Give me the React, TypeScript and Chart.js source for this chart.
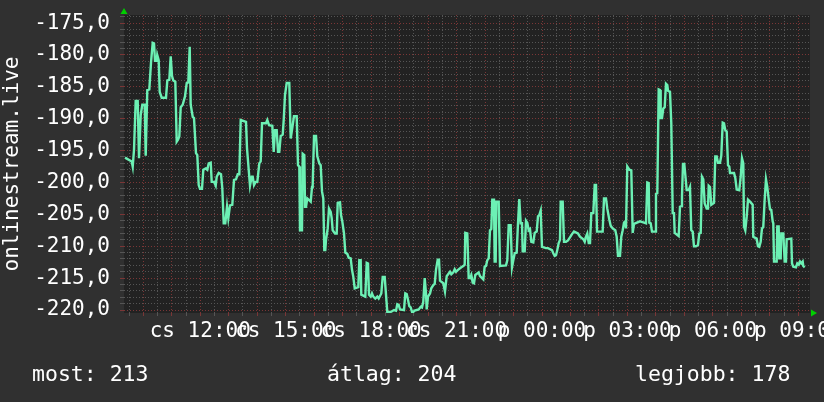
import { useEffect, useRef } from 'react';
import { Chart, registerables } from 'chart.js';

Chart.register(...registerables);

// Time of each vertex, in hours from Thursday 00:00 (values above 24 are Friday)
const hours = [
  9.357, 9.593, 9.628, 9.673, 9.733, 9.803, 9.849, 9.909, 9.965, 10.049,
  10.084, 10.14, 10.211, 10.27, 10.33, 10.376, 10.411, 10.47, 10.49, 10.54,
  10.576, 10.646, 10.797, 10.843, 10.913, 10.962, 11.008, 11.053, 11.124, 11.173,
  11.218, 11.264, 11.313, 11.383, 11.464, 11.524, 11.58, 11.629, 11.664, 11.735,
  11.78, 11.85, 11.896, 11.945, 11.991, 12.061, 12.107, 12.191, 12.247, 12.296,
  12.367, 12.402, 12.482, 12.542, 12.577, 12.647, 12.728, 12.774, 12.823, 12.879,
  12.939, 12.985, 13.044, 13.125, 13.185, 13.255, 13.315, 13.371, 13.42, 13.606,
  13.641, 13.701, 13.746, 13.806, 13.841, 13.887, 13.947, 14.003, 14.073, 14.122,
  14.168, 14.308, 14.354, 14.414, 14.53, 14.579, 14.624, 14.684, 14.73, 14.775,
  14.824, 14.895, 14.93, 14.975, 15.035, 15.126, 15.176,
  15.246, 15.29, 15.386, 15.432, 15.478, 15.502, 15.572, 15.597, 15.653, 15.678,
  15.713, 15.758, 15.878, 15.924, 15.948, 15.994, 16.064, 16.11, 16.18, 16.229,
  16.275, 16.32, 16.355, 16.39, 16.415, 16.475, 16.52, 16.58, 16.615, 16.65,
  16.731, 16.791, 16.826, 16.907, 16.942, 16.987, 17.047, 17.093, 17.163, 17.212,
  17.282, 17.328, 17.374, 17.423, 17.549, 17.584, 17.633, 17.654, 17.795, 17.844,
  17.89, 17.925, 17.984, 18.03, 18.076, 18.146, 18.216, 18.265, 18.311, 18.357,
  18.406, 18.476, 18.522, 18.567, 18.687, 18.733, 18.803, 18.873, 18.918, 18.968,
  19.013, 19.154, 19.2, 19.249, 19.294, 19.34, 19.389, 19.435, 19.48, 19.529,
  19.67, 19.74, 19.786, 19.831, 19.881, 19.926, 19.951, 19.997, 20.067, 20.112,
  20.183, 20.232, 20.277, 20.337, 20.383, 20.418, 20.534, 20.593, 20.653, 20.769,
  20.815, 20.885, 20.934, 20.98, 21.05, 21.166, 21.236,
  21.285, 21.306, 21.376, 21.425, 21.471, 21.517, 21.566, 21.612, 21.657, 21.776,
  21.822, 21.938, 21.987, 22.033, 22.078, 22.128, 22.173, 22.219, 22.254, 22.314,
  22.338, 22.373, 22.394, 22.479, 22.525, 22.735, 22.781, 22.83, 22.9, 22.946,
  22.992, 23.041, 23.111, 23.157, 23.202, 23.251, 23.297, 23.322, 23.392, 23.438,
  23.483, 23.532, 23.578, 23.624, 23.694, 23.743, 23.813, 23.859, 23.904, 23.954,
  23.999, 24.14, 24.21, 24.35, 24.396, 24.445, 24.491, 24.536, 24.586, 24.631,
  24.656, 24.726, 24.772, 24.842, 24.912, 24.982, 25.053, 25.123, 25.263, 25.333,
  25.45, 25.499, 25.545, 25.59, 25.64, 25.685, 25.731, 25.801, 25.85, 25.896,
  25.931, 26.13, 26.176, 26.246, 26.292, 26.362, 26.411, 26.481, 26.573, 26.622,
  26.668, 26.738, 26.784, 26.833, 26.879, 26.924, 26.949, 26.994, 27.065, 27.135,
  27.184,
  27.23, 27.44, 27.581, 27.651, 27.697, 27.746, 27.767, 27.816, 27.862, 27.978,
  28.002, 28.048, 28.097, 28.143, 28.167, 28.213, 28.258, 28.308, 28.353, 28.399,
  28.424, 28.494, 28.539, 28.589, 28.634, 28.659, 28.799, 28.845, 28.89, 28.915,
  28.95, 28.996, 29.031, 29.08, 29.15, 29.196, 29.241, 29.291, 29.336, 29.406,
  29.477, 29.522, 29.572, 29.617, 29.663, 29.712, 29.782, 29.828, 29.853, 29.898,
  29.944, 30.039, 30.084, 30.134, 30.179, 30.25, 30.295, 30.345, 30.39, 30.436,
  30.485, 30.531, 30.576, 30.601, 30.742, 30.787, 30.836, 30.927, 30.977, 31.022,
  31.068, 31.093, 31.138, 31.187, 31.233, 31.303, 31.397, 31.418, 31.537, 31.583,
  31.629, 31.678, 31.724, 31.769, 31.818, 31.864, 31.91, 31.959, 32.005, 32.05,
  32.1, 32.121, 32.146, 32.24, 32.261, 32.31, 32.331, 32.381, 32.402, 32.472,
  32.521, 32.567, 32.591, 32.753, 32.778, 32.823, 32.918, 32.963, 33.013, 33.058,
  33.104, 33.153, 33.174, 33.223,
];

const values = [
  -196.1, -196.7, -197.5, -194.9, -187.2, -187.2, -196.2, -189.4, -187.8, -187.8,
  -195.8, -185.5, -185.4, -181.2, -178.1, -178.2, -180.9, -180.9, -180, -180.8,
  -185.8, -186.7, -186.7, -184, -183.9, -180.2, -183.3, -184, -184.2, -193.6,
  -193.3, -192.8, -188.2, -187.8, -186.5, -184.4, -184.3, -178.7, -187.8, -189.7,
  -189.9, -195.4, -195.7, -200.4, -201, -201, -198, -197.8, -198, -197,
  -196.9, -199.9, -199.9, -200.5, -199.1, -198.5, -198.7, -200.9, -206.4, -206.4,
  -203.8, -205.6, -203.6, -203.5, -199.6, -199.5, -198.7, -198.7, -190.2, -190.5,
  -194.6, -198, -200.5, -199.1, -199.1, -200.4, -199.9, -199.9, -197, -196.7,
  -190.7, -190.7, -190.2, -191, -191.1, -195.2, -191.8, -191.8, -195.2, -195.2,
  -192.7, -192.5, -190.2, -186.3, -184.4, -184.4, -193.1,
  -191, -189.6, -189.6, -197.3, -197.5, -207.5, -207.5, -195.5, -195.7, -203.8,
  -203.8, -202.5, -203, -200.7, -200.4, -192.7, -192.7, -195.9, -197, -197.3,
  -201.4, -202.5, -210.6, -210.6, -209, -207.2, -204.1, -204.6, -205.6, -207.5,
  -208, -208, -203.2, -203.1, -205.1, -206.1, -208, -211, -211.2, -211.8,
  -211.9, -213.7, -214.8, -216.6, -216.4, -212.2, -212.2, -217.6, -217.9, -212.6,
  -212.7, -217.6, -217.9, -217.4, -217.9, -218.2, -217.9, -218.2, -217.8, -217.4,
  -214.8, -214.8, -217.6, -220.3, -220.3, -220.2, -220, -220.1, -219.1, -219.2,
  -219.9, -220, -217.4, -217.5, -218.4, -219.4, -219.6, -220.3, -220.3, -220.1,
  -219.9, -219.5, -219.6, -218.7, -215, -217.4, -219.9, -217.9, -217.4, -216.6,
  -216.1, -215.9, -213.7, -212.1, -212.1, -215.4, -215.8, -217.1, -214.7, -214,
  -214.4, -214.1, -213.6, -214, -213.7, -213.3, -213.1,
  -212.9, -207.9, -208, -215, -215, -214.5, -215.7, -215.8, -214.5, -214.1,
  -214.7, -215.2, -213.2, -213.1, -212.2, -211.9, -207.5, -207.3, -202.7, -202.7,
  -212.4, -212.4, -203, -203, -213.1, -213, -212.2, -206.7, -206.7, -213.3,
  -212.2, -211.1, -211, -206.4, -202.6, -206.4, -206.4, -210.8, -210.8, -206,
  -206.3, -207.5, -207.3, -209.3, -209.4, -207.9, -207.7, -205.3, -205.1, -204.4,
  -210.1, -210.3, -210.3, -210.6, -211.1, -211.5, -211.4, -210.6, -209.5, -209,
  -203, -203, -209.3, -209.3, -209.1, -208.6, -208.1, -207.7, -208, -208.5,
  -208.9, -209.3, -208.5, -208, -209.5, -209.5, -204.8, -204.8, -200.4, -200.4,
  -207.7, -207.7, -202.5, -202.5, -204.1, -205.8, -206.8, -207.2, -207.5, -208.5,
  -211.5, -211.5, -208.5, -207.5, -206.3, -206.1, -207.2, -197.5, -198, -198.1,
  -207.9,
  -206.5, -206.1, -206.3, -206.4, -200, -200.1, -206.3, -206.4, -207.7, -207.7,
  -201.8, -201.7, -185.4, -185.5, -189.9, -189.9, -188.4, -188.2, -184.5, -184.7,
  -185.6, -185.8, -190.7, -204.8, -204.8, -207.9, -208.4, -203.8, -203.7, -202.2,
  -197.1, -197.1, -198.8, -201.2, -201.2, -200.7, -207.5, -207.7, -210, -210,
  -209.8, -208, -207.9, -199.1, -199.5, -203.3, -204.1, -204.1, -200.5, -200.7,
  -203.5, -203.2, -195.9, -195.9, -196.9, -196.9, -195.8, -190.6, -190.7, -191.8,
  -192, -197.3, -197.5, -198.5, -198.5, -199.3, -201.1, -201.2, -199.1, -196.2,
  -197, -206.9, -207.5, -205.4, -202.7, -203, -203.5, -208.5, -208.8, -210,
  -210.1, -209.3, -207.2, -207, -202.7, -199.5, -200.7, -202.6, -204.2, -204.3,
  -206.1, -206.4, -212.4, -212.4, -206.9, -206.9, -211.9, -211.9, -208, -208,
  -212.4, -212.4, -208.9, -208.8, -212.7, -213.2, -213.3, -212.7, -212.9, -212.4,
  -212.7, -212.4, -213.1, -213.3,
];

const xRange = [9.322, 33.41];
const yRange = [-220.47, -173.73];
const xTickHours = [12, 15, 18, 21, 24, 27, 30, 33];
const xTickLabels = ['cs 12:00', 'cs 15:00', 'cs 18:00', 'cs 21:00', 'p 00:00', 'p 03:00', 'p 06:00', 'p 09:00'];
const yTitle = 'onlinestream.live';
const legendItems = ['most: 213', 'átlag: 204', 'legjobb: 178'];

const FONT_FAMILY = '"DejaVu Sans Mono", monospace';
const FONT_SIZE = 21;
const BG = '#303030';
const PLOT_BG = '#222222';
const FG = '#ffffff';
const MAJOR = '#7a3636';
const MINOR = '#555555';
const LINE = '#6cf0b4';
const ARROW = '#00d000';

const isWhole = (v: number) => Math.abs(v - Math.round(v)) < 1e-6;

export default function App() {
  const ref = useRef<HTMLCanvasElement>(null);

  useEffect(() => {
    document.body.style.margin = '0';
    document.body.style.background = BG;
    const canvas = ref.current;
    if (!canvas) return;

    const deco = {
      id: 'deco',
      beforeDraw(chart: any) {
        const { ctx, chartArea: a, width, height } = chart;
        ctx.save();
        ctx.fillStyle = BG;
        ctx.fillRect(0, 0, width, height);
        ctx.fillStyle = PLOT_BG;
        ctx.fillRect(a.left, a.top, a.right - a.left, a.bottom - a.top);
        ctx.restore();
      },
      afterDraw(chart: any) {
        const { ctx, chartArea: a } = chart;
        ctx.save();
        ctx.fillStyle = ARROW;
        ctx.beginPath();
        ctx.moveTo(a.left - 3.5, a.top - 1);
        ctx.lineTo(a.left + 3.5, a.top - 1);
        ctx.lineTo(a.left, a.top - 7);
        ctx.closePath();
        ctx.fill();
        ctx.beginPath();
        ctx.moveTo(a.right + 1, a.bottom - 3.5);
        ctx.lineTo(a.right + 1, a.bottom + 3.5);
        ctx.lineTo(a.right + 7, a.bottom);
        ctx.closePath();
        ctx.fill();

        ctx.fillStyle = FG;
        ctx.font = `21.5px ${FONT_FAMILY}`;
        ctx.textBaseline = 'middle';
        ctx.textAlign = 'left';
        const xs = [32, 327, 635];
        legendItems.forEach((t, i) => ctx.fillText(t, xs[i], 375));
        ctx.restore();
      },
    };

    const gridColor = (c: any) => (c.tick && isWhole(c.tick.value) && (c.scale.axis === 'x' || Math.round(c.tick.value) % 5 === 0) ? MAJOR : MINOR);

    const chart = new Chart(canvas, {
      type: 'line',
      data: {
        datasets: [
          {
            data: hours.map((h, i) => ({ x: h, y: values[i] })),
            borderColor: LINE,
            borderWidth: 2.4,
            pointRadius: 0,
            tension: 0,
            fill: false,
          },
        ],
      },
      options: {
        responsive: false,
        animation: false,
        devicePixelRatio: 1,
        events: [],
        layout: { padding: { top: 15, right: 14, left: 0, bottom: 0 } },
        plugins: { legend: { display: false }, tooltip: { enabled: false } },
        scales: {
          x: {
            type: 'linear',
            min: xRange[0],
            max: xRange[1],
            ticks: {
              stepSize: 0.5,
              includeBounds: false,
              autoSkip: false,
              maxRotation: 0,
              minRotation: 0,
              color: FG,
              font: { family: FONT_FAMILY, size: FONT_SIZE },
              padding: 3,
              callback: (v: any) => {
                const i = xTickHours.findIndex((h) => Math.abs(h - Number(v)) < 1e-6);
                return i >= 0 ? xTickLabels[i] : '';
              },
            },
            grid: { color: gridColor, tickColor: gridColor, lineWidth: 1, drawTicks: true, tickLength: 3 },
            border: { display: false, dash: [1, 2] },
            afterFit: (s: any) => {
              s.height = 89;
              s.paddingLeft = 0;
              s.paddingRight = 0;
            },
          } as any,
          y: {
            type: 'linear',
            min: yRange[0],
            max: yRange[1],
            ticks: {
              stepSize: 1,
              includeBounds: false,
              autoSkip: false,
              color: FG,
              font: { family: FONT_FAMILY, size: FONT_SIZE },
              padding: 10,
              callback: (v: any) => (Math.round(Number(v)) % 5 === 0 ? Number(v).toFixed(1).replace('.', ',') : ''),
            },
            grid: { color: gridColor, tickColor: gridColor, lineWidth: 1, drawTicks: true, tickLength: 4 },
            border: { display: false, dash: [1, 2] },
            title: { display: true, text: yTitle, color: FG, font: { family: FONT_FAMILY, size: FONT_SIZE }, padding: 0 },
            afterFit: (s: any) => {
              s.width = 124;
              s.paddingTop = 0;
              s.paddingBottom = 0;
            },
          } as any,
        },
      },
      plugins: [deco],
    } as any);

    return () => chart.destroy();
  }, []);

  return <canvas ref={ref} width={824} height={402} style={{ display: 'block' }} />;
}
